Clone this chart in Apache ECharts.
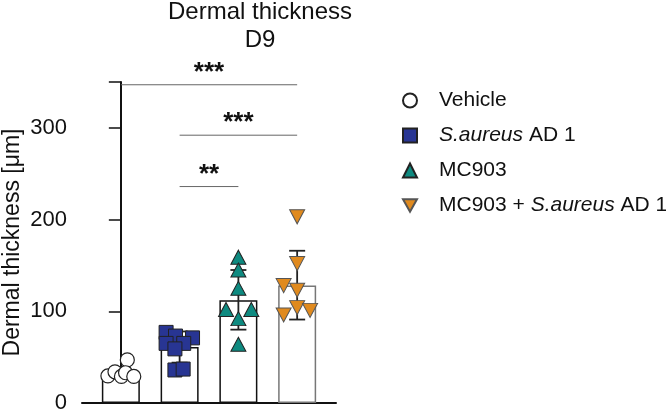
<!DOCTYPE html>
<html>
<head>
<meta charset="utf-8">
<script src="https://cdn.jsdelivr.net/npm/echarts@6/dist/echarts.min.js"></script>
<style>
  html, body { margin: 0; padding: 0; background: #fff; }
  #chart { width: 666px; height: 414px; }
</style>
</head>
<body>
<div id="chart"></div>
<script>
// groups and summary values (mean +/- SD)
var groups = ['Vehicle', 'S.aureus AD 1', 'MC903', 'MC903 + S.aureus AD 1'];
var means = [33, 61, 112, 128];
var errLow = [27, 44, 80, 91];
var errHigh = [39, 78, 145, 166];

// individual animals, with horizontal jitter (in category units)
var vehicle = [29.5, 34, 29, 47, 33, 29];
var vehicleJit = [-0.22, -0.1, 0.01, 0.11, 0.08, 0.22];
var saureus = [77, 73, 71, 65, 65, 59, 36, 37];
var saureusJit = [-0.23, -0.07, 0.22, -0.23, 0.07, -0.08, -0.08, 0.06];
var mc903 = [159, 145, 125, 102, 102, 92, 64];
var mc903Jit = [0, 0, 0, -0.21, 0.22, 0, 0];
var combo = [203, 152, 128, 123, 104, 101, 96];
var comboJit = [0, 0, -0.23, 0, 0, 0.22, -0.23];

// significance brackets
var sigFrom = [0, 1, 1];
var sigTo = [3, 3, 2];
var sigY = [347, 292, 236];
var sigText = ['***', '***', '**'];

var yTicks = [0, 100, 200, 300];

var font = '"Liberation Sans", Arial, sans-serif';
var downTri = 'path://M0,0L10,0L5,9Z';

function pts(vals, jit, idx) {
  var out = [];
  for (var i = 0; i < vals.length; i++) {
    out.push([idx + jit[i], vals[i]]);
  }
  return out;
}

var errData = [];
for (var i = 0; i < means.length; i++) errData.push([i, errLow[i], errHigh[i]]);
var sigData = [];
for (var j = 0; j < sigFrom.length; j++) sigData.push([sigFrom[j], sigTo[j], sigY[j]]);

function renderErr(params, api) {
  var x = api.value(0);
  var lo = api.coord([x, api.value(1)]);
  var hi = api.coord([x, api.value(2)]);
  var c = 8;
  var st = { stroke: '#222', lineWidth: 1.8 };
  return {
    type: 'group',
    children: [
      { type: 'line', shape: { x1: lo[0], y1: lo[1], x2: hi[0], y2: hi[1] }, style: st },
      { type: 'line', shape: { x1: lo[0] - c, y1: lo[1], x2: lo[0] + c, y2: lo[1] }, style: st },
      { type: 'line', shape: { x1: hi[0] - c, y1: hi[1], x2: hi[0] + c, y2: hi[1] }, style: st }
    ]
  };
}

function renderSig(params, api) {
  var a = api.coord([api.value(0), api.value(2)]);
  var b = api.coord([api.value(1), api.value(2)]);
  return {
    type: 'group',
    children: [
      { type: 'line', shape: { x1: a[0], y1: a[1], x2: b[0], y2: b[1] },
        style: { stroke: '#666', lineWidth: 1 } },
      { type: 'text', x: (a[0] + b[0]) / 2, y: a[1] + 1,
        style: { text: sigText[params.dataIndex], fill: '#111', font: 'bold 26px ' + font,
                 align: 'center', verticalAlign: 'bottom' } }
    ]
  };
}

function legendFmt(name) {
  if (name === 'S.aureus AD 1') return '{ip|S.aureus}{t| AD 1}';
  if (name === 'MC903 + S.aureus AD 1') return '{p|MC903 + }{i|S.aureus}{t| AD 1}';
  return '{p|' + name + '}';
}

var chart = echarts.init(document.getElementById('chart'));
chart.setOption({
  animation: false,
  textStyle: { fontFamily: font },
  graphic: [
    { type: 'text', x: 260, y: 0,
      style: { text: 'Dermal thickness', font: '24px ' + font, fill: '#111', align: 'center' } },
    { type: 'text', x: 260, y: 28,
      style: { text: 'D9', font: '24px ' + font, fill: '#111', align: 'center' } }
  ],
  grid: { left: 81, right: 330, top: 82, bottom: 7 },
  xAxis: {
    type: 'value', min: -0.661, max: 3.661,
    axisLine: { show: true, onZero: false, lineStyle: { color: '#111', width: 2 } },
    axisTick: { show: false }, axisLabel: { show: false }, splitLine: { show: false }
  },
  yAxis: {
    type: 'value', min: 0, max: 350, interval: 100,
    name: 'Dermal thickness [μm]', nameLocation: 'middle', nameGap: 58,
    nameTextStyle: { fontSize: 23, color: '#111', fontFamily: font },
    axisLine: { show: true, lineStyle: { color: '#111', width: 2 } },
    axisTick: { show: true, length: 12, lineStyle: { color: '#111', width: 1.5 } },
    axisLabel: { fontSize: 22, color: '#111', margin: 15,
                 formatter: function (v) { return yTicks.indexOf(v) >= 0 ? String(v) : ''; } },
    splitLine: { show: false }
  },
  legend: {
    orient: 'vertical', left: 397, top: 85, itemWidth: 14, itemHeight: 14, itemGap: 14,
    data: [
      { name: groups[0], icon: 'circle' },
      { name: groups[1], icon: 'rect' },
      { name: groups[2], icon: 'triangle' },
      { name: groups[3], icon: downTri }
    ],
    formatter: legendFmt,
    textStyle: {
      fontSize: 21, color: '#111', fontFamily: font,
      rich: {
        p: { fontSize: 21, color: '#111', padding: [0, 0, 0, 17], lineHeight: 21 },
        ip: { fontSize: 21, color: '#111', fontStyle: 'italic', padding: [0, 0, 0, 17], lineHeight: 21 },
        t: { fontSize: 21, color: '#111', lineHeight: 21 },
        i: { fontSize: 21, color: '#111', fontStyle: 'italic', lineHeight: 21 }
      }
    }
  },
  series: [
    {
      type: 'bar', name: 'mean', barWidth: 38, z: 1,
      data: means.map(function (m, k) {
        return { value: [k, m], itemStyle: { borderColor: k === 3 ? '#777' : '#111' } };
      }),
      itemStyle: { color: '#fff', borderColor: '#111', borderWidth: 1.5 }
    },
    { type: 'custom', name: 'sd', z: 2, data: errData, renderItem: renderErr, encode: { x: 0, y: [1, 2] } },
    {
      type: 'scatter', name: groups[0], z: 3, symbol: 'circle', symbolSize: 14,
      data: pts(vehicle, vehicleJit, 0),
      itemStyle: { color: '#fff', borderColor: '#222', borderWidth: 1.2, opacity: 1 }
    },
    {
      type: 'scatter', name: groups[1], z: 3, symbol: 'rect', symbolSize: 14,
      data: pts(saureus, saureusJit, 1),
      itemStyle: { color: '#283593', borderColor: '#222', borderWidth: 1, opacity: 1 }
    },
    {
      type: 'scatter', name: groups[2], z: 3, symbol: 'triangle', symbolSize: [15, 14],
      data: pts(mc903, mc903Jit, 2),
      itemStyle: { color: '#0e8a80', borderColor: '#222', borderWidth: 1, opacity: 1 }
    },
    {
      type: 'scatter', name: groups[3], z: 3, symbol: downTri, symbolSize: [15, 14],
      data: pts(combo, comboJit, 3),
      itemStyle: { color: '#e08a1e', borderColor: '#555', borderWidth: 1, opacity: 1 }
    },
    { type: 'custom', name: 'sig', z: 4, data: sigData, renderItem: renderSig,
      encode: { x: [0, 1], y: 2 }, clip: false }
  ]
});
</script>
</body>
</html>
